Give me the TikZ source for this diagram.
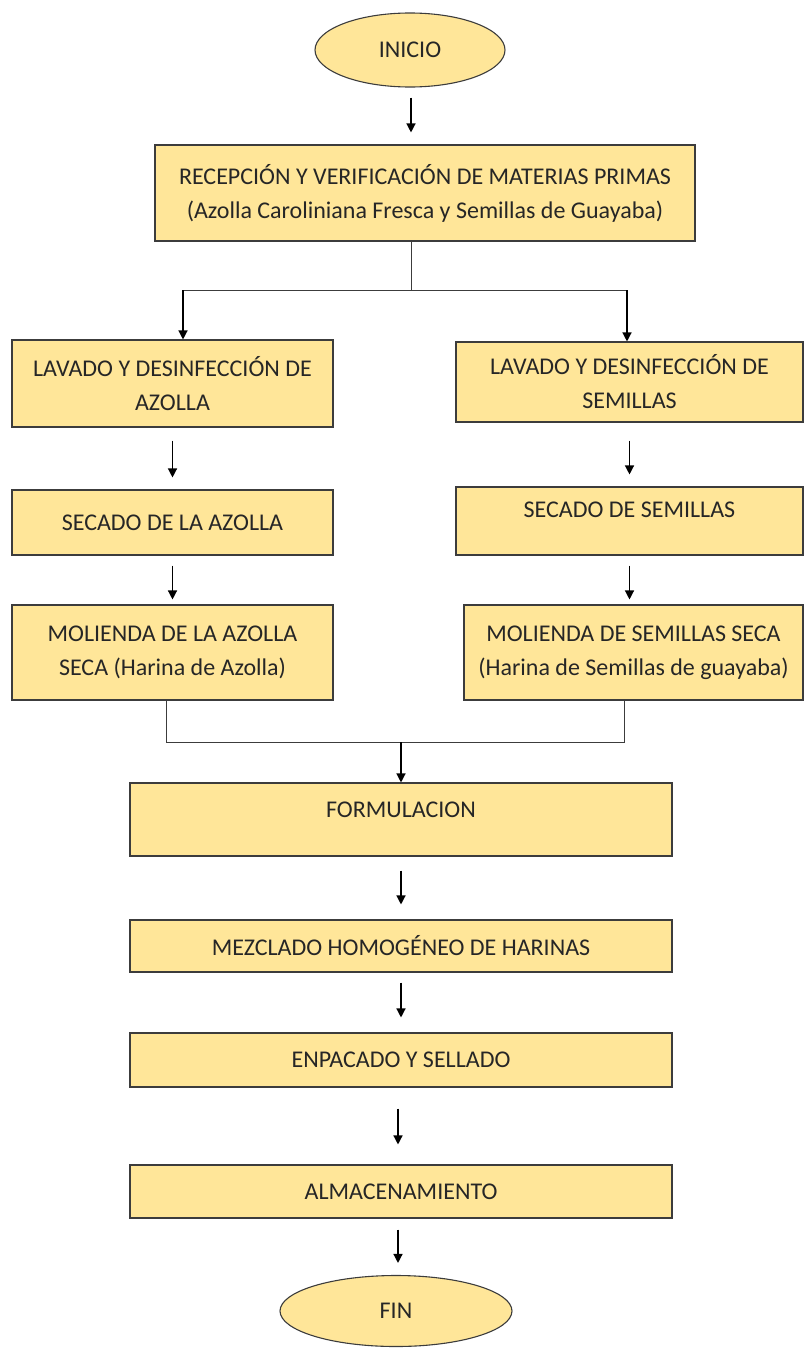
\documentclass[tikz,border=0pt]{standalone}
\usepackage{fontspec}
\setmainfont{Carlito}
\usepackage{xcolor}
\usetikzlibrary{positioning, arrows.meta, shapes.geometric, calc}
\definecolor{boxGold}{RGB}{255, 230, 153}
\definecolor{lineGray}{RGB}{60, 60, 60}
\definecolor{textGray}{RGB}{38, 38, 38}

\begin{document}
\begin{tikzpicture}[
    x=1pt, y=-1pt,
    font=\fontsize{24}{34}\selectfont\color{textGray},
    stepbox/.style={
        rectangle, draw=lineGray, line width=1.1pt, fill=boxGold,
        align=center, inner sep=0pt
    },
    endbox/.style={
        ellipse, draw=lineGray, line width=1.1pt, fill=boxGold,
        inner sep=0pt
    },
    flowarrow/.style={-{Triangle[length=9pt, width=9pt]}, line width=1.3pt, black,
        shorten <=11pt, shorten >=12pt},
    joinline/.style={line width=1pt, lineGray}
]
\useasboundingbox (0,0) rectangle (803,1349);

\node[endbox, minimum width=190pt, minimum height=74pt] (inicio) at (410,50) {INICIO};
\node[stepbox, minimum width=540pt, minimum height=96pt] (recep) at (425,193)
    {RECEPCIÓN Y VERIFICACIÓN DE MATERIAS PRIMAS\\(Azolla Caroliniana Fresca y Semillas de Guayaba)};

% rama azolla
\node[stepbox, minimum width=321pt, minimum height=87pt] (lavA) at (172.5,383.5) {LAVADO Y DESINFECCIÓN DE\\AZOLLA};
\node[stepbox, minimum width=321pt, minimum height=65pt] (secA) at (172.5,522.5) {SECADO DE LA AZOLLA};
\node[stepbox, minimum width=321pt, minimum height=95pt] (molA) at (172.5,652.5) {MOLIENDA DE LA AZOLLA\\SECA (Harina de Azolla)};

% rama semillas
\node[stepbox, minimum width=347pt, minimum height=80pt] (lavB) at (629.5,382) {LAVADO Y DESINFECCIÓN DE\\SEMILLAS};
\node[stepbox, minimum width=347pt, minimum height=68pt] (secB) at (629.5,521) {SECADO DE SEMILLAS\\[-12pt]};
\node[stepbox, minimum width=339pt, minimum height=95pt] (molB) at (633.5,652.5) {MOLIENDA DE SEMILLAS SECA\\(Harina de Semillas de guayaba)};

% tronco final
\node[stepbox, minimum width=542pt, minimum height=73pt] (form) at (401,819.5) {FORMULACION\\[-15pt]};
\node[stepbox, minimum width=542pt, minimum height=52pt] (mezc) at (401,946) {MEZCLADO HOMOGÉNEO DE HARINAS};
\node[stepbox, minimum width=542pt, minimum height=54pt] (enpac) at (401,1060) {ENPACADO Y SELLADO};
\node[stepbox, minimum width=542pt, minimum height=53pt] (alm) at (401,1191.5) {ALMACENAMIENTO};
\node[endbox, minimum width=232pt, minimum height=71pt] (fin) at (396,1311) {FIN};

% reparto
\coordinate (split) at (411,290);
\coordinate (splitL) at (183,290);
\coordinate (splitR) at (627,290);
\draw[flowarrow, shorten <=10pt] (inicio.south -| split) -- (split |- recep.north);
\draw[joinline] (recep.south -| split) -- (split);
\draw[joinline] (splitL) -- (splitR);
\draw[flowarrow, shorten <=0pt, shorten >=0pt] (splitL) -- (splitL |- lavA.north);
\draw[flowarrow, shorten <=0pt, shorten >=0pt] (splitR) -- (splitR |- lavB.north);

\draw[flowarrow, shorten <=13pt] (lavA) -- (secA);
\draw[flowarrow, shorten <=18pt] (lavB) -- (secB);
\draw[flowarrow, shorten <=10pt, shorten >=5pt] (secA) -- (molA);
\draw[flowarrow, shorten <=10pt, shorten >=5pt] (secB.south) -- (secB.south |- molB.north);

% union
\coordinate (join) at (401,742);
\coordinate (joinL) at (166,742);
\coordinate (joinR) at (624,742);
\draw[joinline] (molA.south -| joinL) -- (joinL) -- (joinR) -- (molB.south -| joinR);
\draw[flowarrow, shorten <=0pt, shorten >=0pt] (join) -- (join |- form.north);

\draw[flowarrow, shorten <=14pt, shorten >=15pt] (form) -- (mezc);
\draw[flowarrow, shorten <=10pt, shorten >=15pt] (mezc) -- (enpac);
\draw[flowarrow, shorten <=21pt, shorten >=20pt] ([xshift=-3pt]enpac.south) -- ([xshift=-3pt]enpac.south |- alm.north);
\draw[flowarrow] ([xshift=-3pt]alm.south) -- ([xshift=-3pt]alm.south |- fin.north);
\end{tikzpicture}
\end{document}
